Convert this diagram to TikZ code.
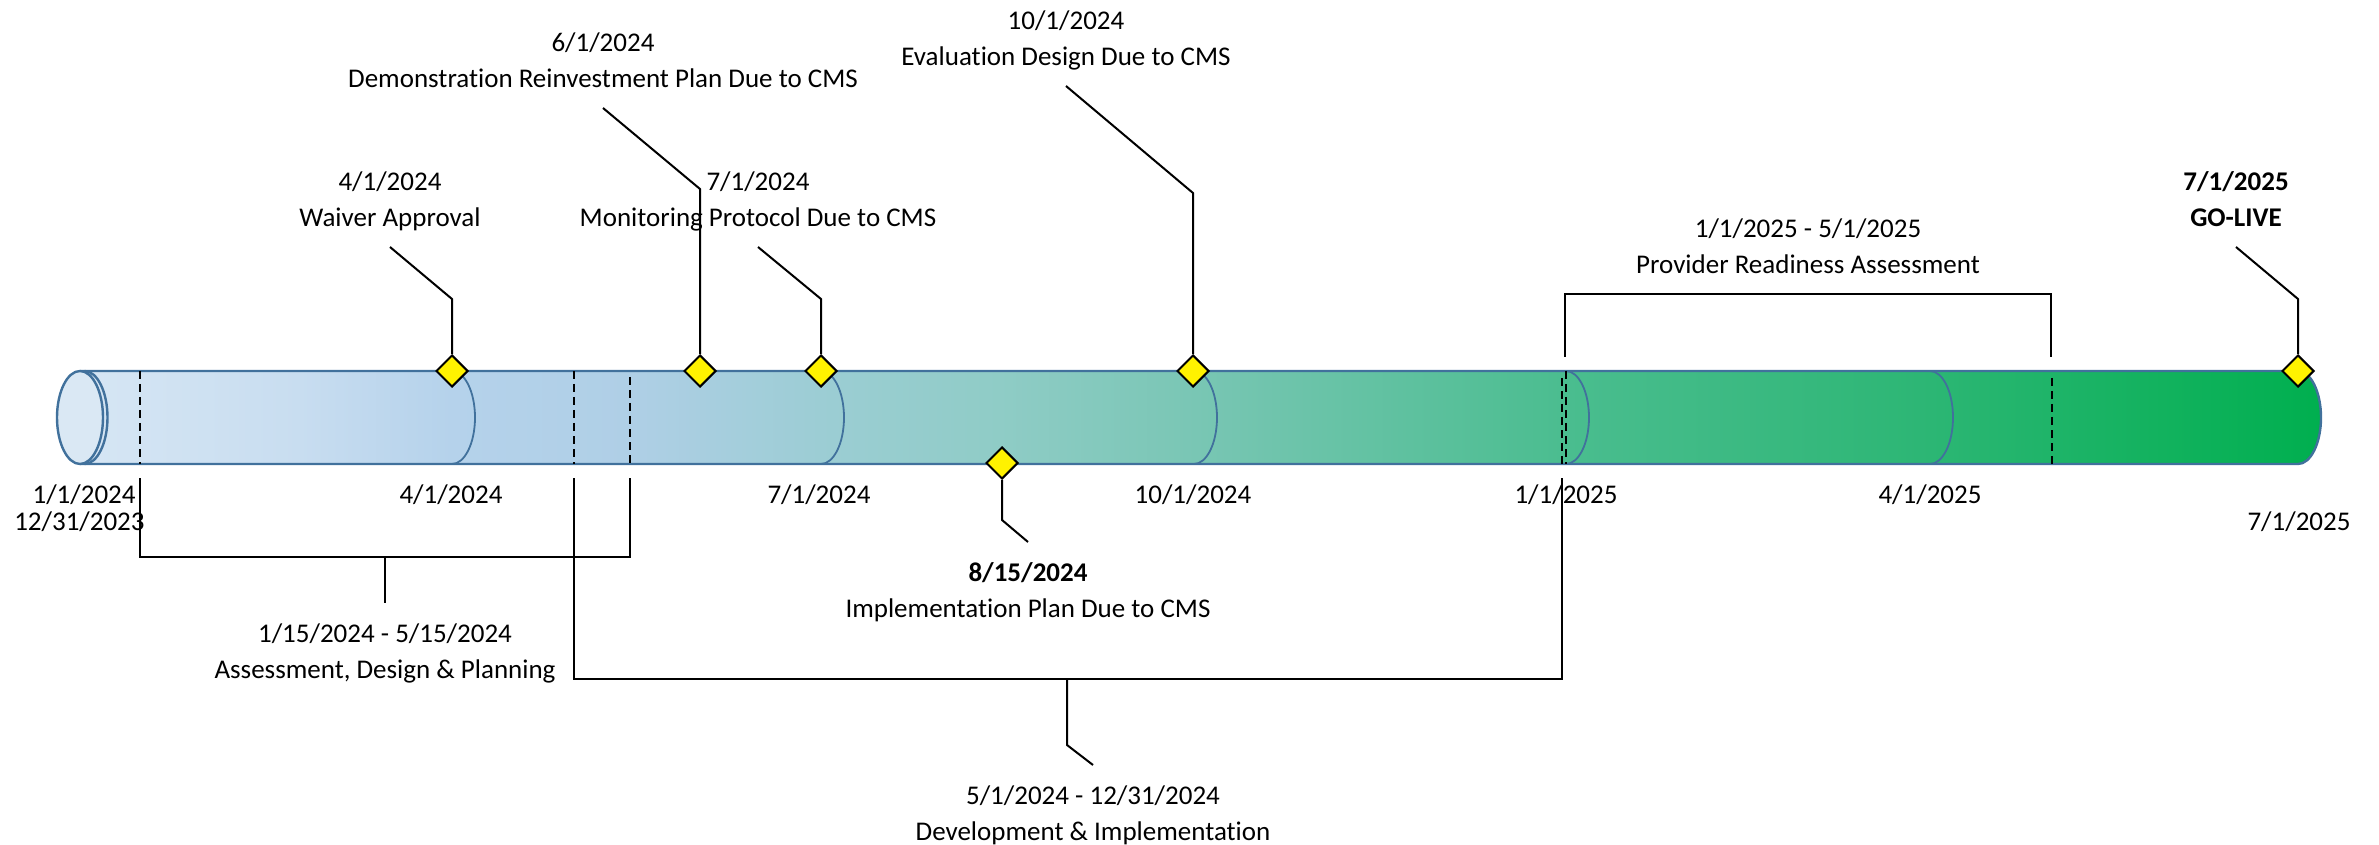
\documentclass[tikz,border=0pt]{standalone}
\usepackage{fontspec}
\setmainfont{Carlito}[Ligatures=NoCommon]
\usetikzlibrary{shapes.geometric}
\definecolor{tubln}{HTML}{41719C}
\definecolor{capfl}{HTML}{DAE8F4}
\definecolor{sha}{HTML}{D6E6F4}
\definecolor{shb}{HTML}{C8DDF0}
\definecolor{shc}{HTML}{B5D2EB}
\definecolor{shd}{HTML}{AFCFE6}
\definecolor{she}{HTML}{9CCDD4}
\definecolor{shf}{HTML}{8FCCC6}
\definecolor{shg}{HTML}{79C6B4}
\definecolor{shh}{HTML}{4ABD8F}
\definecolor{shi}{HTML}{2CB674}
\definecolor{shj}{HTML}{00AF4F}
\pgfdeclarehorizontalshading{tubesh}{100bp}{color(0bp)=(sha); color(25bp)=(sha); color(29.9bp)=(shb); color(33.3bp)=(shc); color(37.3bp)=(shd); color(41.5bp)=(she); color(45.5bp)=(shf); color(49.9bp)=(shg); color(58.2bp)=(shh); color(66.3bp)=(shi); color(75bp)=(shj); color(100bp)=(shj)}
\tikzset{%
    tub/.style={draw=tubln, line width=1.2pt},
    seg/.style={draw=tubln, line width=0.9pt},
    das/.style={line width=1pt, dash pattern=on 4pt off 2.5pt},
    lea/.style={line width=1pt},
    brk/.style={line width=1.2pt},
    dia/.style={diamond, draw, line width=1pt, fill=yellow, minimum size=16pt, inner sep=0pt},
    lbt/.style={anchor=south, align=center, font=\fontsize{13.5pt}{18pt}\selectfont, text depth=3pt, inner sep=7pt},
    lbb/.style={anchor=north, align=center, font=\fontsize{13.5pt}{18pt}\selectfont, inner sep=10pt},
    tck/.style={font=\fontsize{13.5pt}{18pt}\selectfont, inner sep=0pt},
}
\begin{document}
\begin{tikzpicture}[x=0.5pt,y=-0.5pt]
    \useasboundingbox (0,0) rectangle (2379,845);
    % tube
    \shade[shading=tubesh] (80,371) -- (2298,371) arc[start angle=90, end angle=-90, x radius=11.5pt, y radius=23.25pt] -- (80,464) -- cycle;
    \foreach \sx in {452,821,1194,1566,1930}
        \draw[seg] (\sx,371) arc[start angle=90, end angle=-90, x radius=11.5pt, y radius=23.25pt];
    \draw[tub] (80,371) -- (2298,371) arc[start angle=90, end angle=-90, x radius=11.5pt, y radius=23.25pt] -- (80,464);
    \draw[tub, fill=capfl] (80,417.5) ellipse[x radius=11.5pt, y radius=23.25pt];
    \draw[tub] (84.5,371) arc[start angle=90, end angle=-90, x radius=11.5pt, y radius=23.25pt];
    \draw[das] (140,371) -- (140,464) (574,371) -- (574,464) (630,377) -- (630,464);
    \draw[das] (1562,378) -- (1562,464) (1566,371) -- (1566,464) (2052,378) -- (2052,464);
    % dates under the tube
    \node[tck, anchor=east] (t1) at (136,495) {1/1/2024};
    \node[tck, anchor=east] (t0) at (145,522) {12/31/2023};
    \node[tck] (t2) at (451,495) {4/1/2024};
    \node[tck] (t3) at (819,495) {7/1/2024};
    \node[tck] (t4) at (1193,495) {10/1/2024};
    \node[tck] (t5) at (1566,495) {1/1/2025};
    \node[tck] (t6) at (1930,495) {4/1/2025};
    \node[tck] (t7) at (2299,522) {7/1/2025};
    % brackets
    \draw[brk] (140,478) |- (630,557) -- (630,478);
    \draw[brk] (574,478) |- (1562,679) -- (1562,478);
    \draw[brk] (1565,357) |- (2051,294) -- (2051,357);
    \coordinate (asMid) at (385,557);
    \coordinate (dvMid) at (1067,679);
    \coordinate (dvK) at (1067,745);
    \coordinate (prMid) at (1808,294);
    \node[lbb] (lAssess) at (385,603) {1/15/2024 - 5/15/2024\\Assessment, Design \& Planning};
    \node[lbb] (lDev) at (1093,765) {5/1/2024 - 12/31/2024\\Development \& Implementation};
    \node[lbt] (lProv) at (prMid) {1/1/2025 - 5/1/2025\\Provider Readiness Assessment};
    \draw[lea] (asMid) -- (lAssess.north);
    \draw[lea] (dvMid) -- (dvK) -- (lDev.north);
    % milestones
    \node[dia] (dWaiver) at (452,371) {};
    \node[dia] (dDemo) at (700,371) {};
    \node[dia] (dMonitor) at (821,371) {};
    \node[dia] (dEval) at (1193,371) {};
    \node[dia] (dLive) at (2298,371) {};
    \node[dia] (dImpl) at (1002,463) {};
    \node[lbt] (lWaiver) at (390,247) {4/1/2024\\Waiver Approval};
    \node[lbt] (lDemo) at (603,108) {6/1/2024\\Demonstration Reinvestment Plan Due to CMS};
    \node[lbt] (lMonitor) at (758,247) {7/1/2024\\Monitoring Protocol Due to CMS};
    \node[lbt] (lEval) at (1066,86) {10/1/2024\\Evaluation Design Due to CMS};
    \node[lbt] (lLive) at (2236,247) {\textbf{7/1/2025}\\\textbf{GO-LIVE}};
    \node[lbb] (lImpl) at (1028,542) {\textbf{8/15/2024}\\Implementation Plan Due to CMS};
    \coordinate (kWaiver) at (452,299);
    \coordinate (kDemo) at (700,189);
    \coordinate (kMonitor) at (821,299);
    \coordinate (kEval) at (1193,193);
    \coordinate (kLive) at (2298,299);
    \coordinate (kImpl) at (1002,520);
    \draw[lea] (lWaiver.south) -- (kWaiver) -- (dWaiver.north);
    \draw[lea] (lDemo.south) -- (kDemo) -- (dDemo.north);
    \draw[lea] (lMonitor.south) -- (kMonitor) -- (dMonitor.north);
    \draw[lea] (lEval.south) -- (kEval) -- (dEval.north);
    \draw[lea] (lLive.south) -- (kLive) -- (dLive.north);
    \draw[lea] (dImpl.south) -- (kImpl) -- (lImpl.north);
\end{tikzpicture}
\end{document}
